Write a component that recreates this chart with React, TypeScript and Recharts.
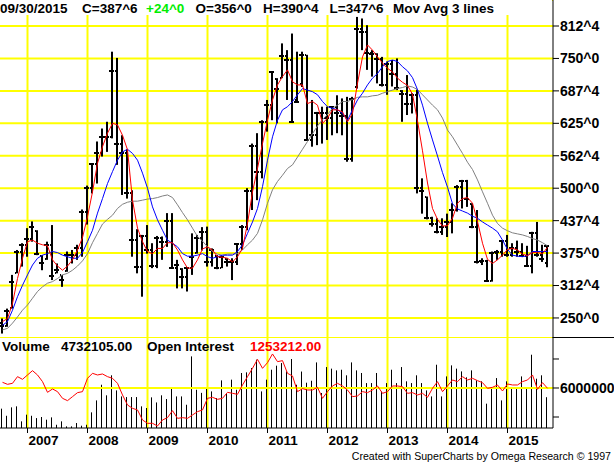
import React from "react";
import {
  ComposedChart,
  Bar,
  Line,
  XAxis,
  YAxis,
  CartesianGrid,
  ReferenceLine,
} from "recharts";

const FONT = "'Liberation Sans', Arial, Helvetica, sans-serif";
const GRID = "#ffff00";

// monthly bars, Aug 2006 .. Sep 2015 (cents/bushel)
const highs = [
  249, 268, 333, 381, 394, 423, 436, 419, 371, 397,
  429, 355, 333, 378, 381, 391, 459, 505, 548, 590,
  615, 628, 763, 751, 602, 575, 496, 421, 410, 429,
  394, 408, 407, 452, 452, 362, 346, 346, 413, 410,
  425, 426, 384, 371, 368, 365, 365, 394, 429, 500,
  586, 606, 631, 670, 724, 712, 779, 766, 798, 763,
  763, 757, 670, 647, 657, 657, 657, 679, 673, 676,
  676, 830, 827, 814, 766, 760, 753, 744, 747, 750,
  689, 718, 683, 690, 519, 484, 445, 442, 442, 451,
  471, 506, 516, 516, 471, 458, 365, 362, 378, 381,
  400, 410, 394, 399, 394, 389, 416, 435, 391, 390.5,
];
const lows = [
  220, 233, 268, 336, 349, 368, 397, 371, 342, 362,
  323, 336, 310, 339, 355, 362, 368, 430, 490, 509,
  561, 570, 596, 545, 487, 480, 368, 336, 291, 374,
  346, 346, 362, 387, 346, 307, 307, 301, 333, 374,
  380, 349, 349, 344, 346, 349, 323, 352, 381, 419,
  458, 477, 519, 609, 631, 625, 712, 670, 628, 667,
  695, 593, 580, 583, 586, 593, 602, 606, 602, 551,
  551, 692, 766, 728, 715, 702, 696, 680, 696, 689,
  628, 641, 644, 490, 451, 440, 426, 413, 410, 406,
  413, 455, 461, 464, 423, 355, 352, 320, 320, 362,
  368, 368, 368, 368, 368, 349, 336, 368, 358, 347.75,
];
const opens = [
  240, 235, 270, 337, 378, 390, 403, 418, 370, 363,
  390, 337, 332, 340, 371, 371, 384, 455, 500, 546,
  568, 599, 599, 726, 586, 568, 490, 401, 349, 407,
  381, 351, 405, 397, 437, 347, 345, 328, 346, 375,
  405, 416, 357, 370, 346, 364, 358, 357, 392, 426,
  495, 582, 532, 628, 660, 711, 713, 755, 747, 670,
  700, 757, 593, 602, 644, 645, 635, 656, 644, 640,
  556, 695, 806, 801, 760, 758, 748, 699, 740, 720,
  688, 681, 662, 680, 500, 483, 442, 431, 416, 426,
  435, 458, 503, 514, 470, 425, 357, 360, 321, 376,
  377, 398, 371, 384, 378, 370, 351, 413, 371, 356,
];
const closes = [
  235, 263, 320, 378, 390, 403, 426, 374, 355, 390,
  330, 342, 323, 371, 371, 384, 455, 500, 546, 568,
  599, 599, 726, 586, 568, 490, 401, 349, 407, 381,
  351, 405, 397, 437, 347, 352, 328, 346, 368, 405,
  416, 357, 380, 346, 368, 358, 357, 392, 426, 495,
  582, 532, 628, 660, 723, 692, 755, 747, 628, 667,
  757, 593, 602, 644, 645, 635, 656, 644, 640, 556,
  672, 806, 801, 760, 758, 748, 699, 740, 720, 694,
  681, 662, 680, 500, 495, 442, 431, 416, 426, 435,
  458, 503, 514, 480, 425, 357, 360, 321, 376, 377,
  398, 371, 384, 378, 370, 351, 413, 371, 364, 387.75,
];

// the three moving averages as drawn
const maFast = [
  243, 249, 278, 326, 365, 397, 400, 394, 391, 389,
  362, 350, 342, 350, 362, 381, 405, 445, 493, 548,
  580, 606, 625, 622, 602, 574, 477, 423, 397, 378,
  374, 384, 384, 395, 395, 381, 362, 346, 346, 362,
  383, 387, 381, 368, 367, 365, 358, 368, 384, 432,
  493, 538, 586, 631, 670, 699, 715, 728, 705, 699,
  699, 663, 667, 660, 625, 635, 651, 651, 647, 628,
  644, 702, 753, 776, 766, 753, 741, 731, 724, 712,
  704, 698, 681, 630, 572, 510, 461, 440, 427, 428,
  442, 471, 480, 482, 471, 436, 394, 363, 355, 362,
  371, 382, 384, 381, 373, 370, 376, 376, 374, 386,
];
const maMid = [
  236, 243, 265, 291, 313, 333, 352, 365, 371, 374,
  378, 376, 371, 368, 365, 365, 376, 397, 419, 452,
  480, 509, 532, 554, 570, 575, 567, 554, 529, 500,
  464, 439, 419, 400, 394, 387, 374, 369, 369, 371,
  374, 368, 365, 368, 371, 371, 371, 378, 391, 413,
  435, 461, 503, 554, 599, 631, 651, 657, 667, 680,
  692, 689, 686, 680, 667, 657, 654, 651, 644, 631,
  651, 670, 683, 699, 712, 721, 734, 744, 747, 744,
  734, 726, 713, 690, 660, 625, 593, 562, 530, 502,
  470, 460, 456, 452, 446, 442, 435, 429, 423, 416,
  400, 382, 371, 369, 368, 370, 378, 378, 378, 378,
];
const maSlow = [
  227, 230, 240, 252, 265, 275, 288, 301, 310, 317,
  320, 326, 333, 336, 342, 350, 360, 374, 395, 413,
  431, 440, 448, 461, 469, 473, 475, 475, 477, 479,
  480, 482, 485, 487, 482, 468, 453, 439, 423, 407,
  398, 387, 378, 373, 371, 373, 373, 374, 381, 391,
  400, 413, 439, 471, 497, 513, 525, 538, 545, 560,
  575, 590, 605, 620, 632, 642, 654, 660, 667, 667,
  671, 675, 676, 676, 678, 679, 683, 686, 689, 692,
  694, 697, 695, 690, 680, 670, 660, 651, 635, 612,
  599, 583, 567, 550, 536, 516, 493, 471, 448, 432,
  423, 418, 414, 412, 410, 407, 403, 400, 395, 389,
];

const volume = [
  3150000, 2170000, 3330000, 3470000, 1400000, 2320000, 2170000, 1850000, 2000000, 1630000,
  1950000, 930000, 1400000, 710000, 710000, 1170000, 800000, 930000, 2640000, 4290000,
  6450000, 4990000, 7750000, 5670000, 4840000, 4750000, 4750000, 4750000, 3470000, 3240000,
  4710000, 4010000, 4990000, 4480000, 6080000, 4840000, 4840000, 3690000, 10360000, 5760000,
  5330000, 6000000, 5530000, 4610000, 7050000, 5310000, 7150000, 5760000, 8070000, 8160000,
  8750000, 9910000, 5530000, 7150000, 8520000, 9080000, 9440000, 8290000, 10000000, 6450000,
  8270000, 6730000, 7000000, 9530000, 5310000, 8890000, 8670000, 8430000, 8520000, 7750000,
  9530000, 8430000, 8070000, 6680000, 6680000, 8070000, 5530000, 6680000, 8520000, 6680000,
  8890000, 6920000, 6680000, 7750000, 6680000, 5670000, 4840000, 9210000, 4840000, 7600000,
  9120000, 8670000, 8290000, 7470000, 8430000, 7050000, 6920000, 3840000, 6000000, 7370000,
  4290000, 6920000, 6000000, 6000000, 7600000, 6000000, 10590000, 7280000, 7750000, 4732105,
];
const openInterest = [
  1343000, 1313000, 1328000, 1428000, 1388000, 1453000, 1518000, 1453000, 1353000, 1193000,
  1243000, 1203000, 1103000, 1068000, 1128000, 1188000, 1203000, 1403000, 1478000, 1453000,
  1468000, 1428000, 1403000, 1328000, 1153000, 1003000, 953000, 928000, 778000, 728000,
  728000, 688000, 778000, 813000, 918000, 803000, 813000, 803000, 853000, 903000,
  928000, 1103000, 1118000, 1088000, 1103000, 1193000, 1178000, 1163000, 1303000, 1428000,
  1553000, 1688000, 1553000, 1638000, 1768000, 1653000, 1668000, 1478000, 1438000, 1203000,
  1248000, 1228000, 1228000, 1268000, 1103000, 1203000, 1288000, 1328000, 1288000, 1228000,
  1128000, 1138000, 1203000, 1188000, 1228000, 1288000, 1178000, 1203000, 1288000, 1288000,
  1278000, 1178000, 1188000, 1153000, 1178000, 1118000, 1253000, 1353000, 1203000, 1288000,
  1378000, 1353000, 1428000, 1378000, 1403000, 1368000, 1338000, 1253000, 1268000, 1303000,
  1213000, 1318000, 1303000, 1303000, 1353000, 1378000, 1453000, 1238000, 1338000, 1253212,
];

const priceTicks = [250, 312.5, 375, 437.5, 500, 562.5, 625, 687.5, 750, 812.5];
const volumeTicks = [2000000, 6000000, 10000000];

const months = highs.map((_, i) => {
  const n = 7 + i;
  return `${2006 + Math.floor(n / 12)}-${String((n % 12) + 1).padStart(2, "0")}`;
});
const janIdx = months.flatMap((m, i) => (m.endsWith("-01") ? [i] : []));

const rows = months.map((month, i) => ({
  i,
  month,
  range: [lows[i], highs[i]],
  high: highs[i],
  low: lows[i],
  open: opens[i],
  close: closes[i],
  maFast: maFast[i],
  maMid: maMid[i],
  maSlow: maSlow[i],
  vol: volume[i],
  oi: openInterest[i],
}));

const eighths = (v: number) => {
  const whole = Math.floor(v);
  return `${whole}^${Math.round((v - whole) * 8)}`;
};

function OhlcShape(props: any) {
  const { x, y, width, height, payload } = props;
  if (x == null || y == null || !payload) return null;
  const top = Math.min(y, y + height);
  const bot = Math.max(y, y + height);
  const span = payload.high - payload.low || 1;
  const toY = (v: number) => top + ((payload.high - v) / span) * (bot - top);
  const cx = Math.floor(x + width / 2);
  const yc = Math.round(toY(payload.close));
  const yo = Math.round(toY(payload.open));
  return (
    <g>
      <rect x={cx - 1} y={top} width={2} height={Math.max(bot - top, 1)} fill="#000" />
      <rect x={cx - 3} y={yc - 1} width={5} height={2} fill="#000" />
      <rect x={cx - 2} y={yo - 1} width={1} height={2} fill="#000" />
    </g>
  );
}

function VolShape(props: any) {
  const { x, y, width, height } = props;
  if (x == null || y == null) return null;
  const cx = Math.floor(x + width / 2) - 1;
  return <rect x={cx} y={y} width={1} height={Math.max(height, 0)} fill="#000" />;
}

function YearTick(props: any) {
  const { x, y, payload } = props;
  const label = months[payload.value]?.slice(0, 4);
  return (
    <text x={x + 1} y={y + 10} fontFamily={FONT} fontSize={13.5} fontWeight="bold" fill="#000">
      {label}
    </text>
  );
}

const boldTick = { fontFamily: FONT, fontSize: 14, fontWeight: "bold", fill: "#000" };

export default function App() {
  return (
    <div
      style={{
        position: "absolute",
        left: 0,
        top: 0,
        width: 614,
        height: 463,
        background: "#fff",
        overflow: "hidden",
      }}
    >
      <div style={{ position: "absolute", left: 0, top: 0 }}>
        <ComposedChart
          width={614}
          height={338}
          data={rows}
          margin={{ top: 0, right: 0, bottom: 0, left: 0 }}
        >
          <CartesianGrid stroke={GRID} strokeWidth={2} verticalValues={janIdx} />
          <XAxis dataKey="i" type="category" hide padding={{ left: 0, right: 3 }} />
          <YAxis
            orientation="right"
            width={61}
            domain={[211.4, 862.6]}
            ticks={priceTicks}
            interval={0}
            allowDataOverflow
            tickFormatter={eighths}
            tick={boldTick}
            tickSize={6}
            tickMargin={1}
            tickLine={{ stroke: "#000" }}
            axisLine={{ stroke: "#000" }}
          />
          <Bar dataKey="range" shape={OhlcShape} isAnimationActive={false} />
          <Line dataKey="maSlow" stroke="#808080" strokeWidth={1} dot={false} type="linear" isAnimationActive={false} />
          <Line dataKey="maMid" stroke="#0000ff" strokeWidth={1} dot={false} type="linear" isAnimationActive={false} />
          <Line dataKey="maFast" stroke="#ff0000" strokeWidth={1} dot={false} type="linear" isAnimationActive={false} />
        </ComposedChart>
      </div>

      <div style={{ position: "absolute", left: 0, top: 0 }}>
        <ComposedChart
          width={614}
          height={463}
          data={rows}
          margin={{ top: 337, right: 0, bottom: 0, left: 0 }}
        >
          <CartesianGrid
            stroke={GRID}
            strokeWidth={2}
            horizontal={false}
            verticalValues={janIdx}
            yAxisId="vol"
          />
          <XAxis
            dataKey="i"
            type="category"
            height={35}
            padding={{ left: 0, right: 3 }}
            ticks={janIdx}
            interval={0}
            tick={<YearTick />}
            tickSize={5}
            tickMargin={2}
            tickLine={{ stroke: "#000" }}
            axisLine={{ stroke: "#000" }}
          />
          <YAxis
            yAxisId="vol"
            orientation="right"
            width={61}
            domain={[483000, 13034000]}
            ticks={volumeTicks}
            interval={0}
            allowDataOverflow
            tickFormatter={(v: number) => (v === 6000000 ? "6000000" : "")}
            tick={boldTick}
            tickSize={6}
            tickMargin={1}
            tickLine={{ stroke: "#000" }}
            axisLine={{ stroke: "#000" }}
          />
          <YAxis yAxisId="oi" hide domain={[657700, 2022700]} allowDataOverflow />
          <ReferenceLine yAxisId="vol" y={6000000} stroke={GRID} strokeWidth={2} />
          <Bar yAxisId="vol" dataKey="vol" shape={VolShape} isAnimationActive={false} />
          <Line yAxisId="oi" dataKey="oi" stroke="#ff0000" strokeWidth={1} dot={false} type="linear" isAnimationActive={false} />
        </ComposedChart>
      </div>

      <svg
        width={614}
        height={463}
        style={{ position: "absolute", left: 0, top: 0, pointerEvents: "none" }}
        fontFamily={FONT}
        fontWeight="bold"
        fontSize={13.5}
      >
        <rect x={0} y={0} width={552} height={15} fill="#fff" />
        <text x={0} y={13}>09/30/2015</text>
        <text x={82} y={13}>C=387^6</text>
        <text x={146} y={13} fill="#00ee00">+24^0</text>
        <text x={195.5} y={13}>O=356^0</text>
        <text x={263} y={13}>H=390^4</text>
        <text x={329.5} y={13}>L=347^6</text>
        <text x={393} y={13}>Mov Avg 3 lines</text>

        <line x1={553} x2={614} y1={337.5} y2={337.5} stroke="#000" strokeWidth={1} />
        <text x={2} y={350.5}>Volume</text>
        <text x={61} y={350.5}>4732105.00</text>
        <text x={147} y={350.5}>Open Interest</text>
        <text x={250} y={350.5} fill="#ff0000">1253212.00</text>

        <text x={611} y={460} textAnchor="end" fontWeight="normal" fontSize={10.6}>
          Created with SuperCharts by Omega Research © 1997
        </text>
      </svg>
    </div>
  );
}
